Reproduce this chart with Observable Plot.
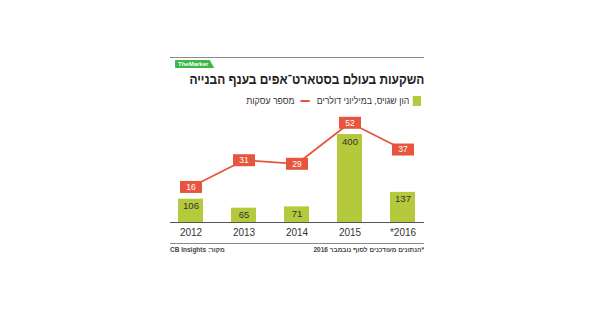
<!DOCTYPE html>
<html>
<head>
<meta charset="utf-8">
<script src="https://cdn.jsdelivr.net/npm/d3@7"></script>
<script src="https://cdn.jsdelivr.net/npm/@observablehq/plot@0.6"></script>
<style>
  html, body { margin: 0; padding: 0; background: #fff; }
  body { width: 600px; height: 321px; position: relative; overflow: hidden; font-family: "Liberation Sans", Arial, "DejaVu Sans", sans-serif; color: #333; }
  #wrap { position: absolute; left: 170px; top: 0; width: 254px; height: 321px; }
  .topline { position: absolute; left: 0; top: 57px; width: 254px; height: 0; border-top: 1.5px solid #8a8a8a; }
  .logo { position: absolute; left: 5px; top: 60px; height: 8px; padding: 0 6px 0 3px; background: #3db843; color: #fff; font: bold 6px/8px "Liberation Sans", Arial, sans-serif; clip-path: polygon(0 0, 88% 0, 100% 100%, 0 100%); border-radius: 1px; }
  .title { position: absolute; right: 0; top: 70px; direction: rtl; font: bold 14px/18px "Liberation Sans", Arial, sans-serif; color: #222; white-space: nowrap; transform: scaleX(0.85); transform-origin: right center; }
  .legend { position: absolute; right: 3px; top: 95px; direction: rtl; font: 9.5px/12px "Liberation Sans", Arial, sans-serif; color: #333; white-space: nowrap; display: flex; align-items: center; transform: scaleX(0.92); transform-origin: right center; }
  .sw { display: inline-block; width: 9px; height: 10px; background: #b5c93c; margin-left: 4px; }
  .dash { display: inline-block; width: 10px; height: 2px; background: #e8553e; margin: 0 8px 0 6px; }
  #chart { position: absolute; left: 0; top: 108px; }
  .bottomline { position: absolute; left: 0; top: 243px; width: 254px; height: 0; border-top: 1px solid #8a8a8a; }
  .foot { position: absolute; top: 246px; font: bold 6.5px/8px "Liberation Sans", Arial, sans-serif; color: #444; white-space: nowrap; }
  .foot.l { left: 0; }
  .foot.r { right: 0; direction: rtl; }
</style>
</head>
<body>
<div id="wrap">
  <div class="topline"></div>
  <div class="logo">TheMarker</div>
  <div class="title">השקעות בעולם בסטארט־אפים בענף הבנייה</div>
  <div class="legend"><span class="sw"></span><span>הון שגויס, במיליוני דולרים</span><span class="dash"></span><span>מספר עסקות</span></div>
  <div id="chart"></div>
  <div class="bottomline"></div>
  <div class="foot l"><span dir="rtl">מקור: CB Insights</span></div>
  <div class="foot r">*הנתונים מעודכנים לסוף נובמבר 2016</div>
</div>
<script>
const years = ["2012", "2013", "2014", "2015", "*2016"];
const capital = [106, 65, 71, 400, 137];
const deals = [16, 31, 29, 52, 37];

const green = "#b5c93c";
const red = "#e8553e";

const data = years.map((y, i) => ({ year: y, capital: capital[i], deals: deals[i] }));
// place the deal-count line on its own (visual) scale within the bar scale
const lineY = d => 32 + 8.1 * d.deals;

const boxSymbol = { draw(ctx) { ctx.rect(-11, -6, 22, 12); } };

const chart = Plot.plot({
  width: 254,
  height: 135,
  marginLeft: 0,
  marginRight: 0,
  marginTop: 4,
  marginBottom: 21,
  style: { fontFamily: "Liberation Sans, Arial, sans-serif", background: "transparent", overflow: "visible" },
  x: { domain: years, range: [-6, 259], paddingInner: 0.53, paddingOuter: 0.265, label: null },
  y: { domain: [0, 500], axis: null },
  marks: [
    Plot.barY(data, { x: "year", y: "capital", fill: green }),
    Plot.text(data, { x: "year", y: "capital", text: d => String(d.capital), dy: 7, fontSize: 9.5, fill: "#333" }),
    Plot.ruleY([0], { stroke: "#555", strokeWidth: 1 }),
    Plot.line(data, { x: "year", y: lineY, stroke: red, strokeWidth: 1.8 }),
    Plot.dot(data, { x: "year", y: lineY, symbol: boxSymbol, fill: red, stroke: null }),
    Plot.text(data, { x: "year", y: lineY, text: d => String(d.deals), fill: "#fff", fontSize: 8.5 }),
    Plot.axisX({ tickSize: 0, tickPadding: 6, fontSize: 10, color: "#333", label: null })
  ]
});
document.getElementById("chart").appendChild(chart);
</script>
</body>
</html>
